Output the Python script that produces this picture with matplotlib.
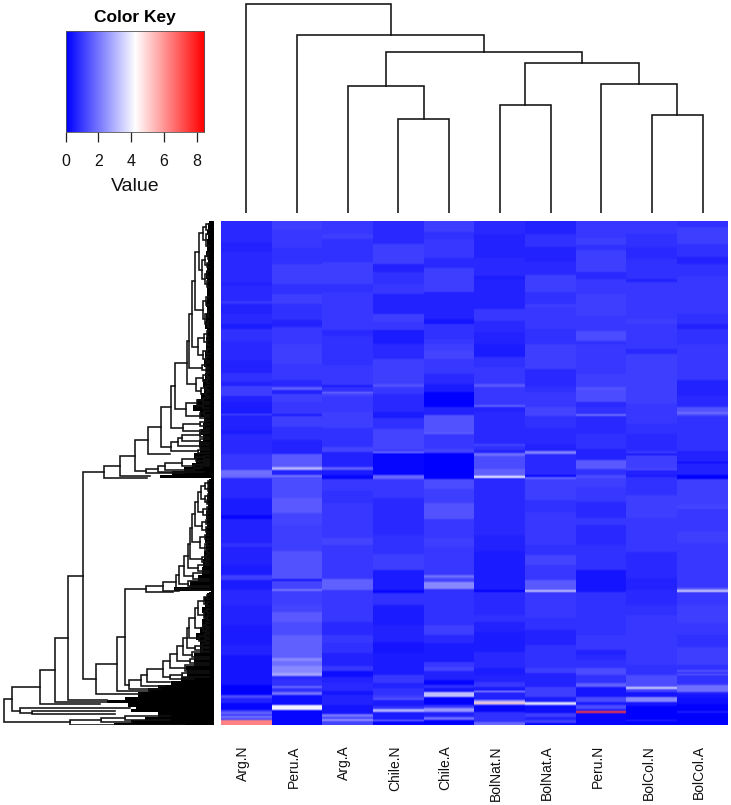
import matplotlib
matplotlib.use("Agg")
import matplotlib.pyplot as plt
from matplotlib.colors import LinearSegmentedColormap, Normalize
import numpy as np

plt.rcParams['font.family'] = ['Liberation Sans', 'DejaVu Sans']

W, H = 731, 805

col_names = ["Arg.N", "Peru.A", "Arg.A", "Chile.N", "Chile.A",
             "BolNat.N", "BolNat.A", "Peru.N", "BolCol.N", "BolCol.A"]
key_ticks = [0, 2, 4, 6, 8]
key_max = 8.45
n_rows = 504

# ===== HEATMAP BANDS: (last row of band, value) =====
arg_n = [(14,.55),(22,.62),(32,.45),(62,.62),(66,.4),(81,.6),(84,.85),(94,.5),(104,.6),(109,.35),(121,.8),(124,.55),
         (140,.65),(153,.45),(162,.75),(166,.4),(176,1.0),(182,.5),(194,.35),(195,1.5),(210,.45),(214,.3),(234,.55),(250,.95),(254,1.9),
         (257,1.8),(277,.6),(294,.3),(298,.1),(322,.5),(326,.8),(344,.4),(354,.35),(359,1.0),(369,.35),(384,.55),
         (404,.45),(424,.35),(434,.5),(464,.2),(474,.05),(477,1.4),(482,.5),(489,.1),(491,1.0),(493,1.8),(495,1.0),(497,2.0),(499,1.2),(504,6.3)]
peru_a = [(10,1.0),(28,.95),(44,.8),(64,1.05),(74,.75),(84,1.0),(100,.8),(107,.5),(124,.9),
          (144,1.15),(160,.85),(167,.6),(170,1.7),(174,.45),(182,1.1),(194,.9),(196,.3),(207,1.1),(220,.8),(234,.45),(247,1.6),(250,3.0),(254,.4),
          (256,2.0),(277,1.3),(292,1.6),(304,1.2),(330,1.05),(358,1.5),(360,.2),(368,1.2),(370,2.0),(384,1.15),
          (391,1.2),(401,1.6),(414,1.35),(437,1.7),(440,2.3),(445,1.9),(452,2.3),(455,2.8),(459,.6),(465,.8),(467,1.8),(471,.7),(474,2.0),(484,.15),(489,4.0),(504,.1)]
arg_a = [(14,.9),(19,1.0),(42,.75),(64,1.05),(72,.75),(104,.95),(110,.85),(116,.55),(124,.7),
         (134,.7),(145,.75),(165,.85),(167,.3),(172,.8),(173,2.1),(176,1.2),(192,.85),(208,1.05),(227,.8),(232,1.2),(247,.5),(250,1.7),(254,.3),
         (258,.1),(270,.85),(282,.7),(317,.9),(324,1.2),(334,.85),(358,.95),(369,1.7),(384,.85),
         (401,.9),(414,.6),(422,.9),(432,.7),(445,.5),(450,.9),(456,.15),(462,.4),(470,.55),(474,.2),(484,.4),(493,.2),(496,2.0),(498,1.2),(500,2.4),(504,1.2)]
chile_n = [(14,.55),(24,.6),(44,1.05),(52,.4),(64,.8),(74,.85),(94,.5),(102,1.05),(110,.9),(124,.35),
           (139,.6),(164,1.1),(167,1.5),(174,.85),(192,.55),(198,.3),(209,.8),(229,1.25),(232,1.0),(233,2.4),(254,.1),
           (258,1.8),(277,.85),(314,.6),(333,.75),(349,1.0),(369,.35),(372,.1),(384,.7),
           (404,.35),(421,.5),(432,.2),(454,.3),(462,.9),(467,.5),(474,.7),(477,1.0),(479,1.5),(485,.3),(488,.8),(491,3.0),(499,.3),(500,2.2),(504,.1)]
chile_a = [(12,1.05),(19,.7),(26,.95),(38,.9),(48,.6),(72,1.0),(84,.45),(99,.45),(104,.2),(119,.7),(124,.9),
           (131,1.0),(139,1.25),(154,.9),(164,.55),(172,.35),(187,.03),(195,.4),(213,1.5),(214,1.8),(229,.95),(233,1.2),(254,.0),
           (258,.0),(268,1.3),(282,1.0),(298,1.45),(317,.85),(326,1.15),(354,.95),(357,1.9),(361,1.2),(368,2.3),(384,.75),
           (404,.75),(414,1.0),(422,.6),(441,.35),(446,.9),(450,1.2),(459,.4),(464,.1),(467,.8),(471,.2),(476,3.2),(484,.0),(487,.9),(491,2.5),(496,.4),(499,1.9),(504,.05)]
bolnat_n = [(14,.55),(38,.5),(56,.6),(59,.3),(89,.5),(101,.95),(112,.65),(124,.45),
            (137,.35),(147,.7),(164,.95),(167,1.6),(185,.95),(187,1.7),(192,.45),(224,.6),(226,1.2),(230,.7),(233,.4),(236,1.9),(249,1.35),(254,1.7),
            (255,2.0),(257,4.0),(258,.5),(314,.55),(330,.4),(369,.35),(371,.0),(384,.65),
            (394,.6),(401,.7),(411,.5),(431,.35),(447,.55),(454,.35),(461,.45),(466,.9),(470,.3),(471,3.0),(479,.4),(481,2.6),(483,5.0),(484,2.2),(491,.1),(501,.7),(504,1.8)]
bolnat_a = [(14,.5),(27,.8),(42,.45),(55,.65),(72,1.0),(84,.7),(87,1.1),(109,.9),(124,.7),
            (149,1.0),(167,.55),(172,.8),(187,.9),(196,1.2),(208,.75),(224,.65),(231,.5),(234,2.2),(254,.55),
            (256,.1),(258,1.8),(279,1.0),(291,.75),(324,.95),(334,.7),(344,1.2),(359,.9),(369,1.6),(371,3.2),(384,.9),
            (397,.85),(409,.75),(424,.5),(447,.75),(452,1.1),(461,.4),(466,.5),(476,1.0),(481,.3),(484,3.7),(492,.15),(496,1.1),(499,.5),(502,1.1),(504,.1)]
peru_n = [(18,.95),(25,1.05),(30,.7),(52,1.1),(59,.55),(74,.85),(87,1.05),(96,1.15),(111,.85),(121,1.35),(124,.8),
          (139,.95),(154,.85),(167,1.05),(170,1.5),(182,1.3),(187,.55),(194,.8),(196,1.9),(214,.55),(229,.7),(240,.45),(249,1.6),(254,.7),
          (257,1.4),(266,1.0),(281,.85),(297,.6),(304,.85),(324,.6),(334,.75),(349,.7),(371,.25),(384,.75),
          (414,.8),(429,.9),(434,.5),(439,.6),(447,.8),(454,1.4),(462,.7),(466,1.7),(476,.2),(481,1.4),(484,.3),(488,1.4),(490,.3),(492,7.5),(504,.1)]
bolcol_n = [(14,.9),(27,.7),(39,.65),(59,.72),(62,.4),(87,.85),(99,.95),(104,1.15),(124,.85),
            (129,.85),(134,.6),(157,1.05),(167,1.15),(184,1.0),(204,.9),(214,.7),(231,.65),(234,.95),(235,.05),(249,1.0),(250,1.6),(254,.5),
            (256,.3),(274,.75),(297,1.0),(321,.85),(331,.95),(341,.6),(357,.55),(369,.4),(384,.55),
            (394,.75),(444,.85),(454,.75),(465,1.4),(466,1.7),(468,3.4),(471,1.2),(476,.2),(481,2.3),(485,.2),(499,.05),(500,.6),(504,.05)]
bolcol_a = [(7,.8),(24,1.0),(37,.8),(44,.5),(56,.8),(72,.95),(94,.9),(104,.7),(109,.5),(124,.75),
            (141,.9),(160,.85),(176,.5),(187,.65),(192,1.5),(194,1.9),(196,1.3),(231,.8),(242,.45),(243,.05),(254,.4),
            (258,.05),(284,1.05),(288,1.25),(310,.95),(322,1.1),(367,.9),(369,1.8),(371,3.4),(384,.9),
            (402,1.0),(414,.85),(426,.75),(444,1.15),(449,.7),(451,1.5),(453,.8),(454,1.8),(462,.8),(464,.9),(471,1.9),(473,.4),(477,.2),(483,.15),(490,.05),(492,.3),(504,.05)]
columns = [arg_n, peru_a, arg_a, chile_n, chile_a, bolnat_n, bolnat_a, peru_n, bolcol_n, bolcol_a]

# my first reading of the dark shades was too contrasty, this pulls them back
read_tone = [0, .1, .3, .6, .9, 1.2, 1.6, 2]
true_tone = [.02, .2, .5, .75, .95, 1.15, 1.55, 2]

# ===== COLUMN DENDROGRAM: (height, left, right), leaf = column index =====
col_tree = (209, 0, (178, 1, (161, (126.5, 2, (94.3, 3, 4)),
                              (149.5, (108, 5, 6), (128.5, 7, (98, 8, 9))))))

# ===== ROW DENDROGRAM: (height, upper, lower), leaf = (row, tip height) =====
def twig(h, r0, r1, tip=5):
    return (h, (r0, tip), (r1, tip))

a1 = (15.3, (11, twig(8, 3, 9), twig(8, 13, 25)), (12, (9, twig(6, 32, 38), twig(7, 42, 46)), (9, twig(7, 50, 56), twig(7, 60, 66))))
a2 = (19, a1, (11, twig(8, 76, 84), (9, twig(6, 90, 96), twig(6, 100, 106))))
a3 = (22, a2, (16, (10, twig(7, 110, 116), twig(7, 119, 124)), (11, twig(7, 128, 133), twig(8, 136, 140))))
a4 = (25, a3, (12, twig(8, 142, 146), twig(8, 148, 151)))
a5 = (27, a4, (18, (11, twig(7, 152, 156), twig(7, 158, 162)), (13, twig(8, 165, 169), twig(8, 171, 175))))
a6 = (39, a5, (28, (17, twig(11, 177, 181), twig(11, 183, 187)), (14, twig(10, 190, 194), twig(9, 196, 199))))
b1 = (43, a6, (31, (14, twig(9, 200, 203), twig(9, 204, 207)), (14, twig(10, 208, 210), (212, 6))))
c1 = (32, twig(14, 212, 216), twig(14, 218, 222))
c2 = (36, c1, twig(14, 224, 227))
c3 = (43, c2, twig(16, 229, 232))
d1 = (53.5, b1, c3)
d2 = (66.5, d1, (233, 44))
e1 = (32, (18, twig(10, 235, 238), twig(10, 239, 241)), (20, twig(13, 243, 245), (247, 12)))
e2 = (49, e1, (249, 20))
e3 = (56, e2, (251, 10))
e4 = (68, e3, (252, 30))
d3 = (79.5, d2, e4)
d4 = (94, d3, (255, 64))
upper = (110, d4, (257, 67))

l1 = (13, (9, twig(6, 260, 264), twig(6, 266, 270)), (9, twig(6, 273, 277), twig(7, 279, 283)))
l2 = (16, l1, (11, twig(7, 286, 290), twig(7, 292, 296)))
l3 = (19, l2, (12, twig(8, 299, 303), twig(8, 306, 311)))
l4 = (22, l3, (14, twig(9, 314, 318), (9, twig(7, 321, 325), twig(7, 328, 332))))
l5 = (24, l4, (12, twig(8, 334, 337), twig(8, 339, 342)))
l6 = (26.5, l5, twig(16, 344, 350))
l7 = (30, l6, twig(21, 352, 358))
l8 = (35, l7, twig(26, 360, 365))
l9 = (38, l8, twig(24, 366, 369))
l10 = (51.5, l9, (370, 35))
l11 = (68.5, l10, (371, 41))

u1 = (10, twig(7, 374, 378), twig(7, 381, 385))
u2 = (16, u1, (10, twig(7, 388, 392), twig(7, 395, 399)))
u3 = (19, u2, (11, twig(8, 402, 406), twig(8, 408, 411)))
u4 = (25, u3, (15, twig(9, 413, 416), twig(9, 418, 421)))
u5 = (27, u4, (19, twig(12, 423, 426), twig(12, 427, 430)))
u6 = (31, u5, twig(22, 431, 436))
u7 = (37, u6, twig(24, 438, 442))
u8 = (44, u7, twig(29, 444, 450))
u9 = (51.5, u8, (44, twig(32, 452, 456), (458, 20)))
u10 = (67, u9, (460.7, 44))
u11 = (73.5, u10, (464.7, 49))
u12 = (85, u11, (468, 54))

m1 = (89, l11, u12)
m2 = (97, m1, (469.7, 64))
m3 = (118, m2, (473.3, 74))
lower = m3

main = (130.7, upper, lower)
n1 = (146.5, main, (479, 107))
n2 = (159.5, n1, (481.3, 106))
n3 = (174, n2, (483.3, 114))
s1 = (182, (490, 99), (493.4, 99))
s2 = (194, (487.3, 84), s1)
s3 = (89, (495, 44), (499, 44))
s4 = (113, s3, (501, 82))
s5 = (144, s4, (503.5, 29))
row_tree = (210.5, (202.5, n3, s2), s5)

# solid black edge of the row dendrogram leaves: row, height
fringe_rows = [0, 2, 5, 9, 14, 18, 24, 30, 36, 42, 50, 58, 64, 72, 80, 86, 92, 100, 108, 116, 122, 130, 138, 146, 152, 158, 166, 172, 178, 184, 190, 196, 202, 208, 214, 220, 226, 232, 238, 242, 246, 250, 254, 257, 258,
               260, 266, 274, 282, 290, 298, 306, 314, 322, 330, 338, 346, 354, 360, 366, 370, 371, 372,
               376, 380, 386, 392, 398, 406, 412, 419, 426, 432, 439, 445, 449, 456, 460, 464, 467, 471, 476, 479, 482, 486, 488, 491, 493, 496, 499, 502, 504]
fringe_h = [3, 5, 6, 6, 7, 6, 7, 7, 8, 6, 7, 8, 7, 7, 7, 8, 7, 8, 9, 7, 8, 8, 9, 10, 8, 9, 11, 10, 13, 17, 21, 14, 10, 11, 13, 11, 15, 14, 20, 18, 22, 30, 42, 54, 3,
            5, 6, 6, 7, 6, 8, 7, 8, 9, 8, 10, 11, 12, 16, 24, 40, 3, 5,
            7, 10, 9, 12, 10, 12, 14, 18, 14, 14, 20, 20, 28, 27, 33, 43, 56, 66, 76, 89, 107, 86, 78, 83, 56, 56, 69, 83, 100]

# ===== PANELS =====
fig = plt.figure(figsize=(W / 100, H / 100), dpi=100)

def panel(x0, y0, x1, y1):
    # pixel box of the reference, top left origin
    ax = fig.add_axes([x0 / W, 1 - y1 / H, (x1 - x0) / W, (y1 - y0) / H])
    return ax

cmap = LinearSegmentedColormap.from_list("bluered", ["#0000ff", "#ffffff", "#ff0000"], N=75)
norm = Normalize(0, key_max)

# heatmap
matrix = np.zeros((n_rows, len(columns)))
for c, bands in enumerate(columns):
    start = 0
    for end, value in bands:
        if value < read_tone[-1]:
            value = np.interp(value, read_tone, true_tone)
        matrix[start:end, c] = value
        start = end

rgb = cmap(norm(matrix))[:, :, :3]
padded = np.concatenate([rgb[:1], rgb, rgb[-1:]])
rgb = 0.25 * padded[:-2] + 0.5 * padded[1:-1] + 0.25 * padded[2:]

ax = panel(221, 221, 728, 725)
ax.imshow(rgb, aspect='auto', interpolation='nearest', extent=(0, 10, n_rows, 0))
ax.axis('off')

for i, name in enumerate(col_names):
    fig.text((221 + 50.7 * (i + 0.5) - 3.5) / W, 1 - 745 / H, name, rotation=90,
             ha='center', va='top', fontsize=10, color='#111111')

# column dendrogram
ax = panel(221, 0, 728, 213)
ax.set_xlim(0, 10)
ax.set_ylim(0, 213)
ax.axis('off')

def draw_col(node):
    if isinstance(node, int):
        return node + 0.5, 0
    h, a, b = node
    xa, ha = draw_col(a)
    xb, hb = draw_col(b)
    ax.plot([xa, xa, xb, xb], [ha, h, h, hb], color='#111111', lw=1.15, solid_joinstyle='miter')
    return (xa + xb) / 2, h

draw_col(col_tree)

# row dendrogram
ax = panel(0, 221, 214, 725)
ax.set_xlim(214, 0)
ax.set_ylim(n_rows, 0)
ax.axis('off')

def draw_row(node):
    if len(node) == 2:
        return node[0], node[1]
    h, a, b = node
    ra, ha = draw_row(a)
    rb, hb = draw_row(b)
    ax.plot([ha, h, h, hb], [ra, ra, rb, rb], color='#111111', lw=1.15, solid_joinstyle='miter')
    return (ra + rb) / 2, h

draw_row(row_tree)
ax.fill_betweenx(fringe_rows, 0, fringe_h, step='pre', color='black', lw=0)

# color key
ax = panel(65.5, 31, 204, 132)
ax.imshow(np.linspace(0, key_max, 75)[None, :], aspect='auto', cmap=cmap, norm=norm,
          extent=(0, key_max, 0, 1), interpolation='bilinear')
ax.set_yticks([])
ax.set_xticks(key_ticks)
ax.tick_params(axis='x', length=7, width=0.9, pad=9, labelsize=11.5, color='#222222', labelcolor='#111111')
ax.set_xlabel("Value", fontsize=14, labelpad=6, color='#111111')
ax.set_title("Color Key", fontsize=12.5, fontweight='bold', pad=6.5)
for s in ax.spines.values():
    s.set_linewidth(0.6)
    s.set_color('#555555')

fig.savefig("out.png", dpi=100)
